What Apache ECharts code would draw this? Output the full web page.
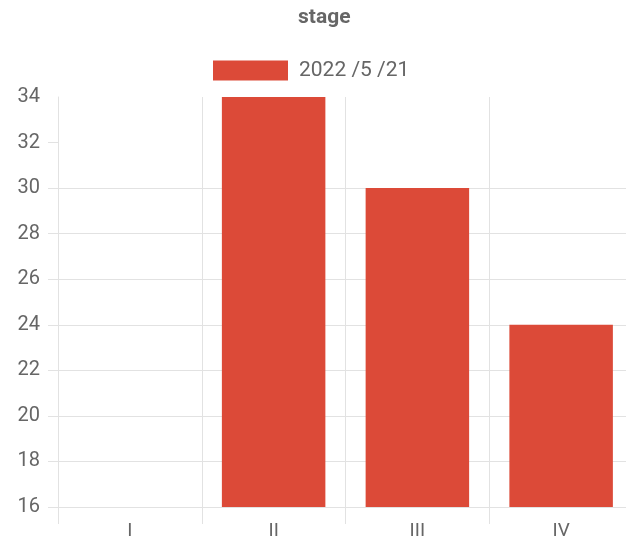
<!DOCTYPE html>
<html>
<head>
<meta charset="utf-8">
<style>
  html, body { margin: 0; padding: 0; background: #ffffff; overflow: hidden; }
  #chart { width: 660px; height: 545px; }
</style>
<script src="https://cdn.jsdelivr.net/npm/echarts@6/dist/echarts.min.js"></script>
</head>
<body>
<div id="chart"></div>
<script>
// Stage categories and counts recorded on 2022/5/21
const stages = ['I', 'II', 'III', 'IV'];
const seriesName = '2022 /5 /21';
const counts = [16, 34, 30, 24];
const yTicks = [16, 18, 20, 22, 24, 26, 28, 30, 32, 34];

const textColor = '#666666';
const gridColor = '#e2e2e2';
const barColor = '#dc4a38';
const font = 'Roboto, "Liberation Sans", sans-serif';

const chart = echarts.init(document.getElementById('chart'), null, { renderer: 'canvas' });

chart.setOption({
  animation: false,
  backgroundColor: '#ffffff',
  title: {
    text: 'stage',
    left: 293,
    top: 2,
    textStyle: { fontFamily: font, fontSize: 21, fontWeight: 'bold', color: textColor }
  },
  legend: {
    left: 208,
    top: 55,
    icon: 'rect',
    itemWidth: 75,
    itemHeight: 20,
    data: [seriesName],
    textStyle: { fontFamily: font, fontSize: 21, color: textColor, padding: [0, 0, 0, 6] }
  },
  grid: { left: 58, top: 97, width: 575, height: 410, containLabel: false },
  xAxis: {
    type: 'category',
    data: stages,
    boundaryGap: true,
    axisLine: { show: true, lineStyle: { color: gridColor, width: 1 } },
    axisTick: { show: true, length: 17, lineStyle: { color: gridColor } },
    splitLine: { show: true, lineStyle: { color: gridColor, width: 1 } },
    axisLabel: { fontFamily: font, fontSize: 19, color: textColor, margin: 15 }
  },
  yAxis: {
    type: 'value',
    min: yTicks[0],
    max: yTicks[yTicks.length - 1],
    interval: yTicks[1] - yTicks[0],
    axisLine: { show: true, lineStyle: { color: gridColor, width: 1 } },
    axisTick: {
      show: true,
      length: 10,
      customValues: yTicks.slice(0, -1),
      lineStyle: { color: gridColor }
    },
    splitLine: { show: true, showMaxLine: false, lineStyle: { color: gridColor, width: 1 } },
    axisLabel: { fontFamily: font, fontSize: 20, color: textColor, margin: 18 }
  },
  series: [{
    name: seriesName,
    type: 'bar',
    data: counts,
    barWidth: '72%',
    itemStyle: { color: barColor }
  }]
});
</script>
</body>
</html>
